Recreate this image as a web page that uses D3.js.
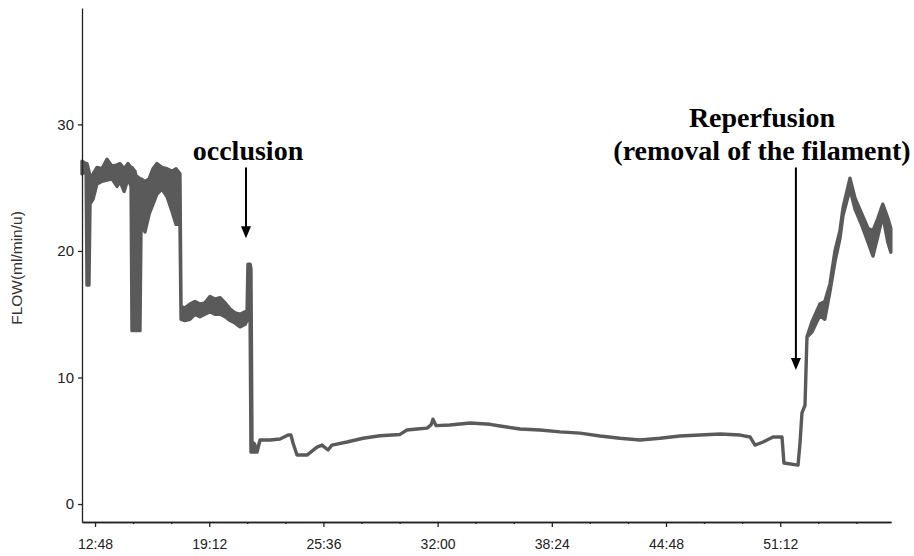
<!DOCTYPE html>
<html lang="en">
<head>
<meta charset="UTF-8">
<title>FLOW trace</title>
<style>
  body { margin: 0; background: #fff; }
  svg { display: block; }
  .axis path, .axis line { stroke: #222; stroke-width: 1.3px; }
  .axis text { font-family: "Liberation Sans", Arial, sans-serif; font-size: 14px; fill: #222; }
  .yaxis text { font-size: 15px; }
  .ytitle { font-family: "Liberation Sans", Arial, sans-serif; font-size: 15.5px; fill: #333; }
  .trace { fill: #5a5a5a; stroke: #5a5a5a; stroke-width: 3.4px; stroke-linejoin: round; }
  .note { font-family: "Liberation Serif", "Times New Roman", serif; font-weight: bold; font-size: 28px; fill: #000; }
  .arrow { stroke: #000; stroke-width: 2px; }
</style>
</head>
<body>
<svg id="chart" width="914" height="556"></svg>
<script src="https://d3js.org/d3.v7.min.js"></script>
<script>
// time in minutes (12.8 = 12:48), flow band
const minutes = [
  12.07, 12.30, 12.35, 12.46, 12.52, 12.69, 12.91, 13.19, 13.47, 13.75,
  14.03, 14.20, 14.43, 14.65, 14.82, 14.87, 15.04, 15.10, 15.15, 15.32,
  15.38, 15.60, 15.83, 16.05, 16.27, 16.55, 16.83, 17.12, 17.34, 17.56,
  17.62, 17.84, 18.12, 18.40, 18.68, 18.96, 19.24, 19.52, 19.81, 20.09,
  20.37, 20.65, 20.93, 21.21, 21.32, 21.37, 21.49, 21.54, 21.60, 21.71,
  21.88, 22.05, 22.61, 23.17, 23.62, 23.78, 23.90, 24.12, 24.68, 25.24,
  25.52, 25.86, 26.08, 26.92, 27.82, 28.77, 29.89, 30.28, 30.84, 31.41,
  31.63, 31.74, 31.91, 32.69, 33.82, 34.94, 35.50, 36.62, 37.74, 38.86,
  39.98, 41.10, 42.22, 43.34, 44.46, 45.58, 46.70, 47.83, 48.95, 49.51,
  49.79, 50.24, 50.80, 51.30, 51.41, 52.20, 52.31, 52.42, 52.59, 52.70,
  52.98, 53.42, 53.70, 53.99, 54.27, 54.55, 54.72, 55.11, 55.39, 55.78,
  56.12, 56.40, 56.68, 56.95, 57.23, 57.40
];
const flowHigh = [
  27.1, 26.9, 26.9, 26.3, 25.7, 26.1, 26.6, 26.5, 27.25, 26.7,
  26.8, 26.9, 26.5, 26.9, 26.6, 26.6, 26.3, 25.9, 25.9, 25.7,
  25.7, 25.5, 25.7, 26.5, 26.9, 26.6, 26.5, 26.3, 26.5, 26.1,
  15.6, 15.5, 15.8, 16.0, 15.8, 15.9, 16.4, 16.2, 16.3, 15.9,
  15.4, 15.1, 15.0, 15.2, 15.2, 18.95, 18.95, 18.6, 4.4, 4.8,
  4.27, 5.06, 5.06, 5.14, 5.45, 5.45, 4.8, 3.87, 3.87, 4.5,
  4.66, 4.27, 4.66, 4.9, 5.2, 5.4, 5.5, 5.85, 5.93, 6.0,
  6.25, 6.7, 6.2, 6.25, 6.4, 6.3, 6.17, 5.93, 5.85, 5.7,
  5.6, 5.38, 5.2, 5.06, 5.2, 5.38, 5.45, 5.53, 5.45, 5.3,
  4.66, 4.9, 5.3, 5.3, 3.24, 3.08, 4.82, 7.2, 7.8, 13.2,
  14.4, 15.8, 16.0, 17.4, 20.0, 21.6, 23.4, 25.75, 24.2, 22.9,
  21.8, 21.6, 22.6, 23.7, 22.6, 21.8
];
const flowLow = [
  26.1, 26.3, 17.3, 17.3, 23.7, 24.1, 25.3, 25.5, 25.6, 25.7,
  25.1, 25.5, 24.7, 25.7, 25.1, 13.7, 13.7, 22.9, 13.7, 13.7,
  22.1, 21.5, 22.9, 23.7, 24.5, 24.9, 24.3, 23.1, 22.1, 22.1,
  14.6, 14.5, 14.6, 15.0, 14.8, 15.0, 15.2, 15.0, 15.0, 14.8,
  14.5, 14.3, 14.0, 14.2, 14.5, 14.5, 14.8, 4.1, 4.1, 4.1,
  4.1, 5.06, 5.06, 5.14, 5.45, 5.45, 4.8, 3.87, 3.87, 4.5,
  4.66, 4.27, 4.66, 4.9, 5.2, 5.4, 5.5, 5.85, 5.93, 6.0,
  6.25, 6.7, 6.2, 6.25, 6.4, 6.3, 6.17, 5.93, 5.85, 5.7,
  5.6, 5.38, 5.2, 5.06, 5.2, 5.38, 5.45, 5.53, 5.45, 5.3,
  4.66, 4.9, 5.3, 5.3, 3.24, 3.08, 4.82, 7.2, 7.8, 13.2,
  13.6, 14.9, 14.6, 16.8, 19.15, 21.0, 22.8, 24.9, 23.3, 22.0,
  20.7, 19.6, 21.2, 22.8, 20.7, 19.9
];

const xTicks = [12.8, 19.2, 25.6, 32, 38.4, 44.8, 51.2];
const xTickLabels = ["12:48", "19:12", "25:36", "32:00", "38:24", "44:48", "51:12"];
const xMinorTicks = [14.93, 17.07, 21.33, 23.47, 27.73, 29.87, 34.13, 36.27,
                     40.53, 42.67, 46.93, 49.07, 53.33, 55.47];
const yTicks = [0, 10, 20, 30];

// annotation arrows: time, value at arrow top, value at arrow tip
const notes = [
  { lines: ["occlusion"], time: 21.26, top: 26.6, tip: 21.0, textX: 248, textY: 160 },
  { lines: ["Reperfusion", "(removal of the filament)"], time: 52.08, top: 26.6, tip: 10.6, textX: 762, textY: 127 }
];

const svg = d3.select("#chart");

const x = d3.scaleLinear().domain([12.07, 57.41]).range([82, 891]);
const y = d3.scaleLinear().domain([-1.42, 39.2]).range([522, 8]);

const data = minutes.map((m, i) => ({ m: m, hi: flowHigh[i], lo: flowLow[i] }));

svg.append("path")
  .datum(data)
  .attr("class", "trace")
  .attr("d", d3.area()
    .x(d => x(d.m))
    .y0(d => y(d.lo))
    .y1(d => y(d.hi)));

// axes
svg.append("g")
  .attr("class", "axis")
  .attr("transform", "translate(0,522)")
  .call(d3.axisBottom(x).tickValues(xMinorTicks).tickSize(2).tickSizeOuter(0).tickFormat(""));

svg.append("g")
  .attr("class", "axis")
  .attr("transform", "translate(0,522)")
  .call(d3.axisBottom(x).tickValues(xTicks).tickSize(5).tickSizeOuter(0).tickPadding(12)
    .tickFormat((d, i) => xTickLabels[i]));

svg.append("g")
  .attr("class", "axis yaxis")
  .attr("transform", "translate(82,0)")
  .call(d3.axisLeft(y).tickValues(yTicks).tickSize(4).tickSizeOuter(0).tickPadding(4));

svg.append("text")
  .attr("class", "ytitle")
  .attr("transform", "translate(22,268) rotate(-90)")
  .attr("text-anchor", "middle")
  .text("FLOW(ml/min/u)");

// annotations
const note = svg.selectAll(".noteg").data(notes).enter().append("g");

note.append("line")
  .attr("class", "arrow")
  .attr("x1", d => x(d.time)).attr("x2", d => x(d.time))
  .attr("y1", d => y(d.top)).attr("y2", d => y(d.tip) - 10);

note.append("path")
  .attr("fill", "#000")
  .attr("d", d => {
    const px = x(d.time), py = y(d.tip);
    return `M${px - 5},${py - 12}L${px + 5},${py - 12}L${px},${py}Z`;
  });

note.each(function(d) {
  const t = d3.select(this).append("text")
    .attr("class", "note")
    .attr("text-anchor", "middle");
  d.lines.forEach((s, i) => {
    t.append("tspan").attr("x", d.textX).attr("y", d.textY + i * 33).text(s);
  });
});
</script>
</body>
</html>
